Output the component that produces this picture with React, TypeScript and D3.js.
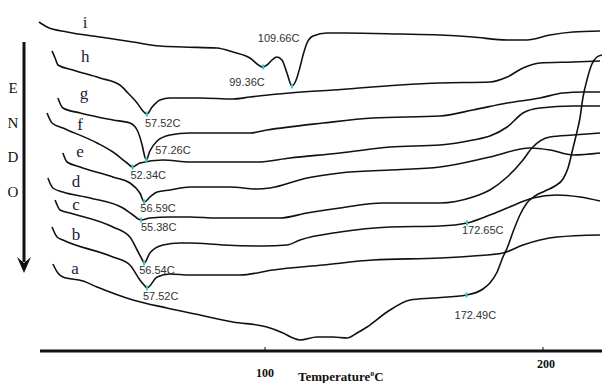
import React from 'react';
import * as d3 from 'd3';

// DSC curves: [temperature °C, heat flow (arb. units, endo down)]
const curveI: [number, number][] = [
  [18.7, 32.9], [21.6, 32.4], [28.8, 31.9], [40.6, 31.4], [52.5, 30.9], [62.2, 30.5],
  [70.5, 30.4], [82.7, 30.3], [88.5, 29.9], [94.6, 29.3], [98.2, 28.5], [99.36, 28.4],
  [100.7, 28.6], [102.5, 29.1], [104.3, 29.4], [106.1, 29.1], [107.9, 27.8], [109.66, 26.5],
  [111.2, 27.1], [112.6, 28.4], [113.7, 29.6], [115.1, 30.8], [117.3, 31.5], [122.3, 31.8],
  [128.8, 31.8], [148.6, 31.7], [162.9, 31.6], [174.8, 31.4], [187.1, 31.1], [194.2, 31.1],
  [202.5, 31.6], [210.8, 31.9], [220.5, 32.0],
];
const curveH: [number, number][] = [
  [23.4, 30.0], [24.5, 29.3], [25.5, 28.6], [30.9, 28.1], [40.6, 27.3], [47.8, 26.6],
  [50.7, 25.8], [54.0, 24.8], [56.1, 24.0], [57.52, 23.7], [59.4, 24.4], [62.2, 25.1],
  [65.8, 25.3], [76.6, 25.3], [88.5, 25.2], [94.6, 25.4], [109.0, 25.8], [124.5, 26.1],
  [148.6, 26.6], [162.9, 26.8], [180.9, 26.9], [187.1, 27.4], [192.8, 28.3], [198.9, 28.8],
  [210.8, 28.9], [220.5, 29.0],
];
const curveG: [number, number][] = [
  [25.5, 25.3], [27.3, 24.3], [33.5, 23.8], [45.3, 23.1], [51.4, 22.8], [54.0, 22.1],
  [55.8, 20.6], [56.8, 19.4], [57.26, 19.1], [58.6, 20.0], [61.2, 21.0], [65.8, 21.6],
  [73.0, 21.8], [94.6, 21.8], [100.7, 22.1], [120.9, 22.8], [138.8, 23.3], [162.9, 23.5],
  [174.8, 24.1], [187.1, 24.8], [198.9, 25.3], [207.2, 25.8], [214.4, 25.9], [220.5, 25.9],
];
const curveF: [number, number][] = [
  [21.6, 23.8], [23.4, 22.8], [27.3, 22.3], [39.6, 20.8], [45.3, 19.9], [50.4, 18.8],
  [52.34, 18.4], [55.0, 18.8], [63.3, 19.1], [73.0, 18.9], [97.1, 18.9], [109.0, 19.3],
  [127.0, 19.8], [145.0, 20.4], [162.9, 20.6], [174.8, 21.1], [180.9, 21.5], [187.1, 22.4],
  [192.8, 23.8], [198.9, 24.3], [210.8, 24.5], [220.5, 24.5],
];
const curveE: [number, number][] = [
  [27.3, 19.8], [28.8, 18.9], [33.5, 18.4], [45.3, 17.4], [51.4, 16.8], [55.0, 15.8],
  [56.59, 14.9], [58.6, 15.4], [61.2, 15.9], [65.8, 16.1], [73.0, 16.4], [87.4, 16.4],
  [97.1, 16.2], [101.8, 16.3], [115.1, 17.3], [127.0, 17.8], [145.0, 18.1], [162.9, 18.4],
  [180.9, 19.4], [195.3, 20.3], [202.5, 20.1], [210.8, 19.6], [220.5, 19.8],
];
const curveD: [number, number][] = [
  [21.9, 17.3], [23.7, 16.3], [27.3, 15.9], [37.1, 15.3], [48.9, 14.3], [52.5, 13.6],
  [55.38, 13.1], [58.6, 13.3], [65.8, 13.4], [73.0, 13.4], [82.7, 13.3], [105.4, 13.3],
  [115.1, 13.8], [127.0, 14.3], [142.4, 14.8], [151.1, 14.8], [162.9, 14.8], [174.8, 15.4],
  [180.9, 16.1], [187.1, 17.4], [192.8, 19.1], [196.0, 20.3], [202.5, 21.4], [210.8, 21.6],
  [220.5, 21.8],
];
const curveC: [number, number][] = [
  [24.5, 15.1], [26.3, 14.1], [29.9, 13.8], [45.3, 12.4], [51.4, 11.4], [54.0, 10.1],
  [56.1, 9.0], [56.54, 8.8], [58.6, 9.8], [63.3, 10.6], [69.4, 10.8], [73.0, 10.8],
  [84.9, 10.6], [99.3, 10.5], [107.9, 10.6], [112.6, 11.1], [127.0, 11.9], [145.0, 12.4],
  [162.9, 12.5], [172.65, 12.8], [180.9, 13.6], [187.1, 14.3], [196.4, 15.3], [205.0, 15.6],
  [213.3, 15.4], [220.5, 15.0],
];
const curveB: [number, number][] = [
  [23.4, 12.4], [25.2, 11.4], [27.3, 11.1], [45.3, 9.4], [51.4, 8.6], [55.0, 7.1],
  [56.8, 6.5], [57.52, 6.3], [61.2, 7.4], [65.8, 7.7], [73.0, 7.6], [91.0, 7.6],
  [102.9, 8.1], [120.9, 8.6], [138.8, 9.1], [162.9, 9.3], [174.8, 9.5], [185.6, 9.8],
  [192.8, 10.6], [198.9, 11.1], [205.0, 11.4], [220.5, 11.6],
];
const curveA: [number, number][] = [
  [23.7, 8.7], [25.5, 7.8], [27.3, 7.4], [34.5, 7.0], [39.6, 6.4], [52.5, 5.1],
  [64.7, 4.3], [76.6, 3.6], [88.5, 2.9], [100.7, 2.4], [106.5, 1.8], [110.1, 1.3],
  [112.6, 1.1], [118.7, 1.4], [124.5, 1.4], [129.5, 1.3], [133.1, 1.8], [136.7, 2.4],
  [143.9, 3.9], [152.2, 5.1], [160.4, 5.3], [172.49, 5.6], [178.4, 6.2], [180.9, 6.8],
  [183.5, 7.9], [185.6, 9.4], [187.1, 10.3], [189.2, 11.9], [191.7, 13.6], [194.2, 14.8],
  [197.1, 15.5], [200.7, 16.0], [204.3, 16.5], [207.2, 17.2], [209.0, 18.3], [210.8, 20.3],
  [212.2, 21.9], [213.3, 23.3], [214.4, 25.4], [215.8, 27.1], [217.6, 28.7], [219.4, 29.4],
  [221.2, 29.6],
];

const series = [
  { key: 'i', points: curveI },
  { key: 'h', points: curveH },
  { key: 'g', points: curveG },
  { key: 'f', points: curveF },
  { key: 'e', points: curveE },
  { key: 'd', points: curveD },
  { key: 'c', points: curveC },
  { key: 'b', points: curveB },
  { key: 'a', points: curveA },
];

// curve letters, placed in data units
const letterPos: [string, number, number][] = [
  ['i', 35.3, 32.3], ['h', 35.3, 28.9], ['g', 34.9, 25.2], ['f', 33.5, 22.1], ['e', 33.5, 19.4],
  ['d', 32.0, 16.4], ['c', 32.0, 14.1], ['b', 32.0, 11.1], ['a', 31.7, 7.7],
];

// peak annotations
const peaks = [
  { curve: 'i', t: 99.36, text: '99.36C' },
  { curve: 'i', t: 109.66, text: '109.66C' },
  { curve: 'h', t: 57.52, text: '57.52C' },
  { curve: 'g', t: 57.26, text: '57.26C' },
  { curve: 'f', t: 52.34, text: '52.34C' },
  { curve: 'e', t: 56.59, text: '56.59C' },
  { curve: 'd', t: 55.38, text: '55.38C' },
  { curve: 'c', t: 56.54, text: '56.54C' },
  { curve: 'b', t: 57.52, text: '57.52C' },
  { curve: 'c', t: 172.65, text: '172.65C' },
  { curve: 'a', t: 172.49, text: '172.49C' },
];
// label offsets from the marker, px
const peakOffsets: [number, number][] = [
  [-34, 19], [-34, -44], [-2, 13], [9, -6], [-2, 12], [-4, 10], [0, 11], [-5, 11], [-4, 12], [-5, 11], [-12, 24],
];

const xTicks = [100, 200];
const endo = ['E', 'N', 'D', 'O'];

const W = 603;
const H = 383;

export default function App() {
  const x = d3.scaleLinear().domain([100, 200]).range([265, 543]);
  const y = d3.scaleLinear().domain([0, 34]).range([351, 11]);
  const line = d3
    .line<[number, number]>()
    .x((d) => x(d[0]))
    .y((d) => y(d[1]))
    .curve(d3.curveMonotoneX);

  const axisY = y(0);
  const serif = '"Liberation Serif", "Times New Roman", serif';
  const sans = '"Liberation Sans", Arial, sans-serif';

  return (
    <svg
      width={W}
      height={H}
      style={{ position: 'absolute', left: 0, top: 0, background: '#fff' }}
    >
      {/* curves */}
      {series.map((s) => (
        <path key={s.key} d={line(s.points) || ''} fill="none" stroke="#111" strokeWidth={1.6} />
      ))}

      {/* curve letters */}
      {letterPos.map(([k, t, v]) => (
        <text key={k} x={x(t)} y={y(v)} textAnchor="middle" fontFamily={serif} fontSize={17} fill="#1c1c3c">
          {k}
        </text>
      ))}

      {/* peak markers and labels */}
      {peaks.map((p, i) => {
        const s = series.find((c) => c.key === p.curve)!;
        const pt = s.points.find((d) => Math.abs(d[0] - p.t) < 0.01)!;
        const px = x(pt[0]);
        const py = y(pt[1]);
        const [dx, dy] = peakOffsets[i];
        return (
          <g key={i}>
            <rect x={px - 1} y={py - 2.5} width={2} height={5} fill="#33c9cc" />
            <text x={px + dx} y={py + dy} fontFamily={sans} fontSize={11} fill="#333">
              {p.text}
            </text>
          </g>
        );
      })}

      {/* ENDO arrow */}
      <line x1={24} y1={42} x2={24} y2={262} stroke="#111" strokeWidth={3} />
      <path d="M17,257 L24,273 L31,257 L24,263 Z" fill="#111" />
      {endo.map((ch, i) => (
        <text key={ch} x={13} y={93 + i * 34.5} textAnchor="middle" fontFamily={serif} fontSize={15} fill="#111">
          {ch}
        </text>
      ))}

      {/* x axis */}
      <line x1={40} y1={axisY} x2={602} y2={axisY} stroke="#111" strokeWidth={3} />
      {xTicks.map((t) => (
        <line key={t} x1={x(t)} y1={axisY - 4} x2={x(t)} y2={axisY} stroke="#111" strokeWidth={1} />
      ))}
      <text x={x(100)} y={377} textAnchor="middle" fontFamily={serif} fontWeight="bold" fontSize={12} fill="#111">
        100
      </text>
      <text x={x(200) + 3} y={368} textAnchor="middle" fontFamily={serif} fontWeight="bold" fontSize={12} fill="#111">
        200
      </text>
      <text x={298} y={381} fontFamily={serif} fontWeight="bold" fontSize={13} fill="#111">
        Temperature
        <tspan dy={-5} fontSize={8}>o</tspan>
        <tspan dy={5}>C</tspan>
      </text>
    </svg>
  );
}
